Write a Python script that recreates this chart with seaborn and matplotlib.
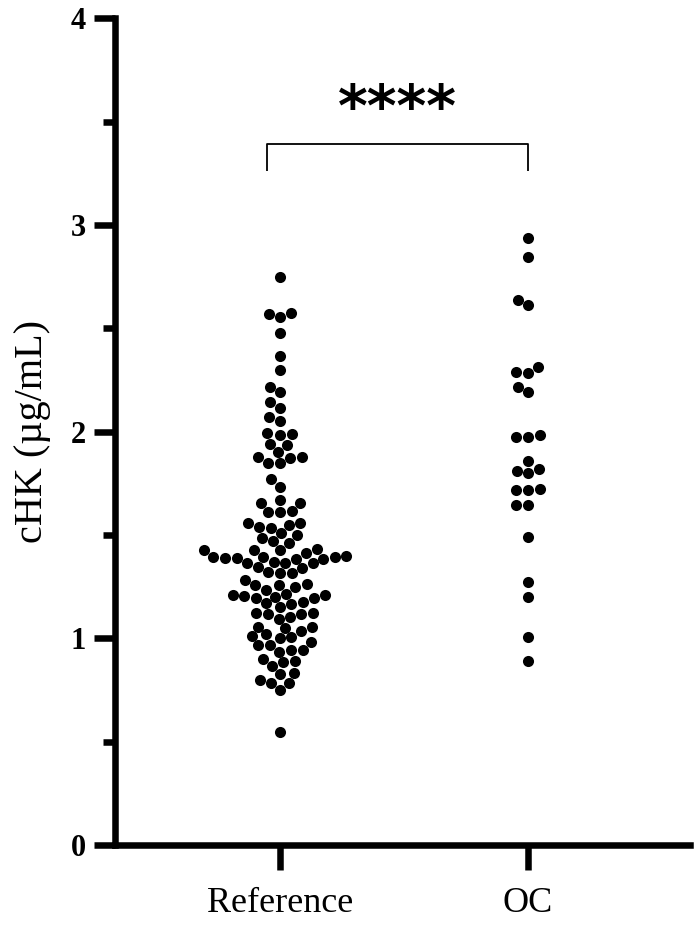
import matplotlib
matplotlib.use("Agg")
import matplotlib.pyplot as plt
import seaborn as sns
import pandas as pd

groups = ["Reference", "OC"]

reference_values = [
    2.75, 2.557, 2.576, 2.57, 2.477, 2.368, 2.30, 2.218, 2.191, 2.143,
    2.117, 2.073, 2.052, 1.993, 1.99, 1.986, 1.935, 1.941, 1.90,
    1.847, 1.871, 1.85, 1.879, 1.879, 1.77, 1.734, 1.67, 1.654, 1.654,
    1.613, 1.617, 1.613, 1.56, 1.56, 1.541, 1.533, 1.549, 1.509, 1.50,
    1.485, 1.471, 1.46, 1.428, 1.428, 1.431, 1.428, 1.411, 1.395, 1.39,
    1.395, 1.384, 1.395, 1.39, 1.386, 1.40, 1.363, 1.37, 1.363, 1.366,
    1.339, 1.321, 1.315, 1.318, 1.347, 1.283, 1.258, 1.258, 1.25, 1.234,
    1.263, 1.195, 1.21, 1.195, 1.205, 1.215, 1.21, 1.202, 1.153, 1.17,
    1.178, 1.166, 1.124, 1.105, 1.095, 1.12, 1.117, 1.125, 1.057, 1.049,
    1.057, 1.005, 1.019, 1.035, 1.012, 1.0, 0.968, 0.984, 0.968, 0.944,
    0.935, 0.946, 0.90, 0.884, 0.89, 0.866, 0.831, 0.826, 0.799, 0.783,
    0.783, 0.75, 0.548,
]

oc_values = [
    2.937, 2.847, 2.638, 2.614, 2.291, 2.315, 2.286, 2.218, 2.191,
    1.976, 1.985, 1.976, 1.859, 1.799, 1.812, 1.82, 1.718, 1.718, 1.721,
    1.646, 1.646, 1.492, 1.274, 1.202, 1.008, 0.892,
]

y_ticks = [0, 1, 2, 3, 4]
y_minor_ticks = [0.5, 1.5, 2.5, 3.5]
y_label = "cHK (µg/mL)"
sig_text = "****"

df = pd.DataFrame({
    "group": [groups[0]] * len(reference_values) + [groups[1]] * len(oc_values),
    "value": reference_values + oc_values,
})

sns.set_theme(style="ticks")
plt.rcParams["font.family"] = ["Liberation Serif", "DejaVu Serif"]
plt.rcParams["text.color"] = "black"
plt.rcParams["axes.labelcolor"] = "black"
plt.rcParams["xtick.color"] = "black"
plt.rcParams["ytick.color"] = "black"

fig = plt.figure(figsize=(7.0, 9.34), dpi=100)
ax = fig.add_axes([0.164, 0.0953, 0.822, 0.885])

sns.swarmplot(data=df, x="group", y="value", order=groups, color="black",
              size=8, linewidth=0, ax=ax)

ax.set_ylim(0, 4)
ax.set_xlim(-0.665, 1.653)
ax.set_yticks(y_ticks)
ax.set_yticks(y_minor_ticks, minor=True)
ax.set_yticklabels([str(t) for t in y_ticks], fontsize=22, fontweight="bold",
                   color="black")
ax.set_xticklabels(groups, fontsize=26, color="black")
ax.set_xlabel("")
ax.set_ylabel(y_label, fontsize=29, labelpad=14, color="black")

for side in ["top", "right"]:
    ax.spines[side].set_visible(False)
for side in ["left", "bottom"]:
    ax.spines[side].set_linewidth(4.7)
    ax.spines[side].set_color("black")

ax.tick_params(axis="y", which="major", length=15, width=4.7, pad=6, colors="black")
ax.tick_params(axis="y", which="minor", length=9, width=4.7, colors="black")
ax.tick_params(axis="x", which="major", length=18, width=4.7, pad=12, colors="black")

# significance bracket
x_left, x_right = -0.05, 1.0
y_top, y_bottom = 3.39, 3.26
ax.plot([x_left, x_left, x_right, x_right], [y_bottom, y_top, y_top, y_bottom],
        color="black", linewidth=1.3, solid_capstyle="butt")
ax.text(0.475, 3.42, sig_text, ha="center", va="bottom", color="black",
        fontsize=41, fontweight="bold", family=["DejaVu Sans"])

fig.savefig("out.png", dpi=100, facecolor="white")
